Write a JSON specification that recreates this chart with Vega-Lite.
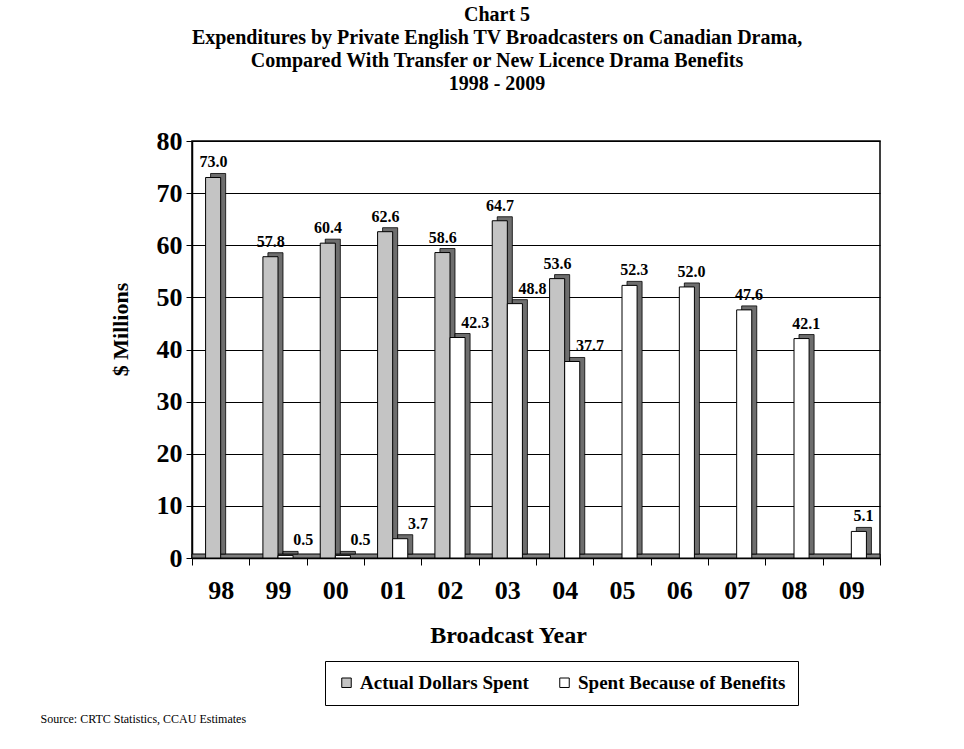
{
  "$schema": "https://vega.github.io/schema/vega-lite/v6.json",
  "width": 688,
  "height": 417,
  "autosize": {"type": "none"},
  "padding": {"left": 192, "top": 141, "right": 84, "bottom": 191},
  "background": "white",
  "config": {
    "font": "Liberation Serif",
    "view": {"stroke": "black", "strokeWidth": 1.5},
    "axis": {"domainColor": "black", "tickColor": "black", "gridColor": "black", "labelColor": "black", "titleColor": "black", "labelFont": "Liberation Serif", "titleFont": "Liberation Serif"}
  },
  "title": {
    "text": ["Chart 5", "Expenditures by Private English TV Broadcasters on Canadian Drama,", "Compared With Transfer or New Licence Drama Benefits", "1998 - 2009"],
    "font": "Liberation Serif",
    "fontSize": 20,
    "fontWeight": "bold",
    "color": "black",
    "lineHeight": 23,
    "anchor": "middle",
    "frame": "group",
    "dx": -39,
    "offset": 34
  },
  "data": {
    "values": [
      {"year": "98", "series": "Actual Dollars Spent", "value": 73.0},
      {"year": "99", "series": "Actual Dollars Spent", "value": 57.8},
      {"year": "99", "series": "Spent Because of Benefits", "value": 0.5},
      {"year": "00", "series": "Actual Dollars Spent", "value": 60.4},
      {"year": "00", "series": "Spent Because of Benefits", "value": 0.5},
      {"year": "01", "series": "Actual Dollars Spent", "value": 62.6},
      {"year": "01", "series": "Spent Because of Benefits", "value": 3.7},
      {"year": "02", "series": "Actual Dollars Spent", "value": 58.6},
      {"year": "02", "series": "Spent Because of Benefits", "value": 42.3},
      {"year": "03", "series": "Actual Dollars Spent", "value": 64.7},
      {"year": "03", "series": "Spent Because of Benefits", "value": 48.8},
      {"year": "04", "series": "Actual Dollars Spent", "value": 53.6},
      {"year": "04", "series": "Spent Because of Benefits", "value": 37.7},
      {"year": "05", "series": "Spent Because of Benefits", "value": 52.3},
      {"year": "06", "series": "Spent Because of Benefits", "value": 52.0},
      {"year": "07", "series": "Spent Because of Benefits", "value": 47.6},
      {"year": "08", "series": "Spent Because of Benefits", "value": 42.1},
      {"year": "09", "series": "Spent Because of Benefits", "value": 5.1}
    ]
  },
  "resolve": {"axis": {"x": "independent"}, "scale": {"xOffset": "independent"}},
  "layer": [
    {
      "data": {"values": [{}]},
      "mark": {"type": "rect", "color": "#808080", "stroke": "black", "strokeWidth": 1, "y2Offset": -4},
      "encoding": {
        "y": {"datum": 0, "type": "quantitative", "scale": {"domain": [0, 80]}},
        "y2": {"datum": 0}
      }
    },
    {
      "mark": {"type": "bar", "color": "#6e6e6e", "stroke": "black", "strokeWidth": 0.8, "yOffset": -4},
      "encoding": {
        "x": {"field": "year", "type": "nominal", "sort": null,
          "scale": {"domain": ["98", "99", "00", "01", "02", "03", "04", "05", "06", "07", "08", "09"], "paddingInner": 0, "paddingOuter": 0},
          "axis": {"orient": "bottom", "domain": false, "ticks": false, "labels": false, "grid": false,
            "title": "Source:  CRTC Statistics, CCAU Estimates", "titleFontWeight": "normal", "titleFontSize": 12,
            "titleAnchor": "start", "titleAlign": "left", "titleX": -152, "titleY": 160, "titleBaseline": "middle", "titleAngle": 0}},
        "xOffset": {"field": "series", "type": "nominal", "scale": {"domain": ["Actual Dollars Spent", "Spent Because of Benefits"], "paddingInner": 0, "paddingOuter": 0.9, "range": [5, 62.333]}},
        "y": {"field": "value", "type": "quantitative"}
      }
    },
    {
      "mark": {"type": "bar", "stroke": "black", "strokeWidth": 1},
      "encoding": {
        "x": {"field": "year", "type": "nominal", "sort": null,
          "axis": {"orient": "bottom", "title": "Broadcast Year", "tickBand": "extent", "labelAngle": 0, "labelFontWeight": "bold", "labelFontSize": 26,
            "labelPadding": 12, "tickSize": 7, "titleFontSize": 24, "titleFontWeight": "bold", "titlePadding": 20, "titleX": 316,
            "domainWidth": 1.5, "grid": false}},
        "xOffset": {"field": "series", "type": "nominal", "scale": {"domain": ["Actual Dollars Spent", "Spent Because of Benefits"], "paddingInner": 0, "paddingOuter": 0.9}},
        "y": {"field": "value", "type": "quantitative",
          "axis": {"title": "$ Millions", "values": [0, 10, 20, 30, 40, 50, 60, 70, 80], "labelFontWeight": "bold", "labelFontSize": 26,
            "labelPadding": 4, "tickSize": 6, "domainWidth": 1.5, "grid": true, "gridWidth": 1,
            "titleFontSize": 22, "titleFontWeight": "bold", "titlePadding": 24, "titleY": 188}},
        "color": {"field": "series", "type": "nominal",
          "scale": {"domain": ["Actual Dollars Spent", "Spent Because of Benefits"], "range": ["#c4c4c4", "#ffffff"]},
          "legend": {"title": null, "orient": "none", "legendX": 133, "legendY": 520, "direction": "horizontal",
            "strokeColor": "black", "padding": 12, "labelFontSize": 19, "labelFontWeight": "bold", "labelFont": "Liberation Serif",
            "labelColor": "black", "labelLimit": 0, "symbolType": "square", "symbolSize": 90, "symbolStrokeColor": "black", "symbolStrokeWidth": 1,
            "columnPadding": 26, "labelOffset": 4}}
      }
    },
    {
      "transform": [{"filter": "datum.series === 'Actual Dollars Spent'"}],
      "mark": {"type": "text", "fontSize": 16, "fontWeight": "bold", "font": "Liberation Serif", "color": "black", "baseline": "alphabetic", "dy": -10, "dx": 3},
      "encoding": {
        "x": {"field": "year", "type": "nominal", "sort": null, "axis": null},
        "xOffset": {"field": "series", "type": "nominal", "scale": {"domain": ["Actual Dollars Spent", "Spent Because of Benefits"], "paddingInner": 0, "paddingOuter": 0.9}},
        "y": {"field": "value", "type": "quantitative"},
        "text": {"field": "value", "type": "quantitative", "format": ".1f"}
      }
    },
    {
      "transform": [
        {"joinaggregate": [{"op": "count", "as": "n"}], "groupby": ["year"]},
        {"filter": "datum.series === 'Spent Because of Benefits' && datum.n === 2"}
      ],
      "mark": {"type": "text", "fontSize": 16, "fontWeight": "bold", "font": "Liberation Serif", "color": "black", "baseline": "alphabetic", "dy": -10, "dx": 15},
      "encoding": {
        "x": {"field": "year", "type": "nominal", "sort": null, "axis": null},
        "xOffset": {"field": "series", "type": "nominal", "scale": {"domain": ["Actual Dollars Spent", "Spent Because of Benefits"], "paddingInner": 0, "paddingOuter": 0.9}},
        "y": {"field": "value", "type": "quantitative"},
        "text": {"field": "value", "type": "quantitative", "format": ".1f"}
      }
    },
    {
      "transform": [
        {"joinaggregate": [{"op": "count", "as": "n"}], "groupby": ["year"]},
        {"filter": "datum.series === 'Spent Because of Benefits' && datum.n === 1"}
      ],
      "mark": {"type": "text", "fontSize": 16, "fontWeight": "bold", "font": "Liberation Serif", "color": "black", "baseline": "alphabetic", "dy": -10, "dx": 2},
      "encoding": {
        "x": {"field": "year", "type": "nominal", "sort": null, "axis": null},
        "xOffset": {"field": "series", "type": "nominal", "scale": {"domain": ["Actual Dollars Spent", "Spent Because of Benefits"], "paddingInner": 0, "paddingOuter": 0.9}},
        "y": {"field": "value", "type": "quantitative"},
        "text": {"field": "value", "type": "quantitative", "format": ".1f"}
      }
    }
  ]
}
